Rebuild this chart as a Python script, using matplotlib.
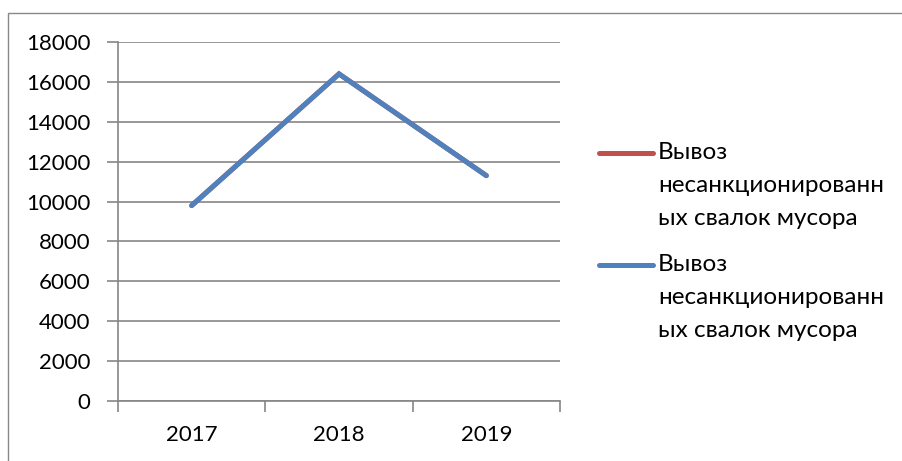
import matplotlib.pyplot as plt
from matplotlib.lines import Line2D
from matplotlib.patches import Rectangle

plt.rcParams['font.family'] = ['Lato', 'DejaVu Sans']

years = ['2017', '2018', '2019']
removed_a = [9800, 16400, 11300]
removed_b = [9800, 16400, 11300]
series_names = ['Вывоз\nнесанкционированн\nых свалок мусора',
                'Вывоз\nнесанкционированн\nых свалок мусора']
colors = ['#C0504D', '#4F81BD']
yticks = list(range(0, 18001, 2000))

W, H = 902, 461
fig = plt.figure(figsize=(W / 100, H / 100), dpi=100)

# outer chart border (only left/top visible in the frame)
fig.add_artist(Rectangle((8 / W, -0.1), 1.2, 1.1 - 13 / H, transform=fig.transFigure,
                         fill=False, edgecolor='#888888', lw=1.0))

ax = fig.add_axes([118 / W, (H - 401) / H, (560 - 118) / W, (401 - 42) / H])
x = range(len(years))
for vals, c in zip([removed_a, removed_b], colors):
    ax.plot(x, vals, color=c, lw=3.6, solid_capstyle='round', solid_joinstyle='miter')

ax.set_ylim(0, 18000)
ax.set_xlim(-0.5, len(years) - 0.5)
ax.set_yticks(yticks)
ax.set_yticklabels([str(v) for v in yticks], fontsize=16)
ax.yaxis.grid(True, color='#868686', lw=1.2)
ax.set_axisbelow(True)

# category ticks between years, labels centered
ax.set_xticks([i - 0.5 for i in range(len(years) + 1)])
ax.set_xticklabels([])
ax.set_xticks(list(x), minor=True)
ax.set_xticklabels(years, minor=True, fontsize=16)
ax.tick_params(axis='x', which='minor', length=0, pad=17)
ax.tick_params(axis='x', which='major', length=8, width=1.2, color='#868686')
ax.tick_params(axis='y', length=8, width=1.2, color='#868686', pad=12)

for s in ['top', 'right']:
    ax.spines[s].set_visible(False)
for s in ['left', 'bottom']:
    ax.spines[s].set_color('#868686')
    ax.spines[s].set_linewidth(1.2)

# legend on the right, handle aligned with the first text line
for name, c, ytop in zip(series_names, colors, [153, 265]):
    fig.add_artist(Line2D([599 / W, 653 / W], [1 - ytop / H] * 2, color=c, lw=3.6,
                          solid_capstyle='round', transform=fig.transFigure))
    fig.text(658 / W, 1 - (ytop - 11) / H, name, fontsize=17.5, va='top', ha='left',
             linespacing=1.7)

fig.savefig('out.png', dpi=100)
